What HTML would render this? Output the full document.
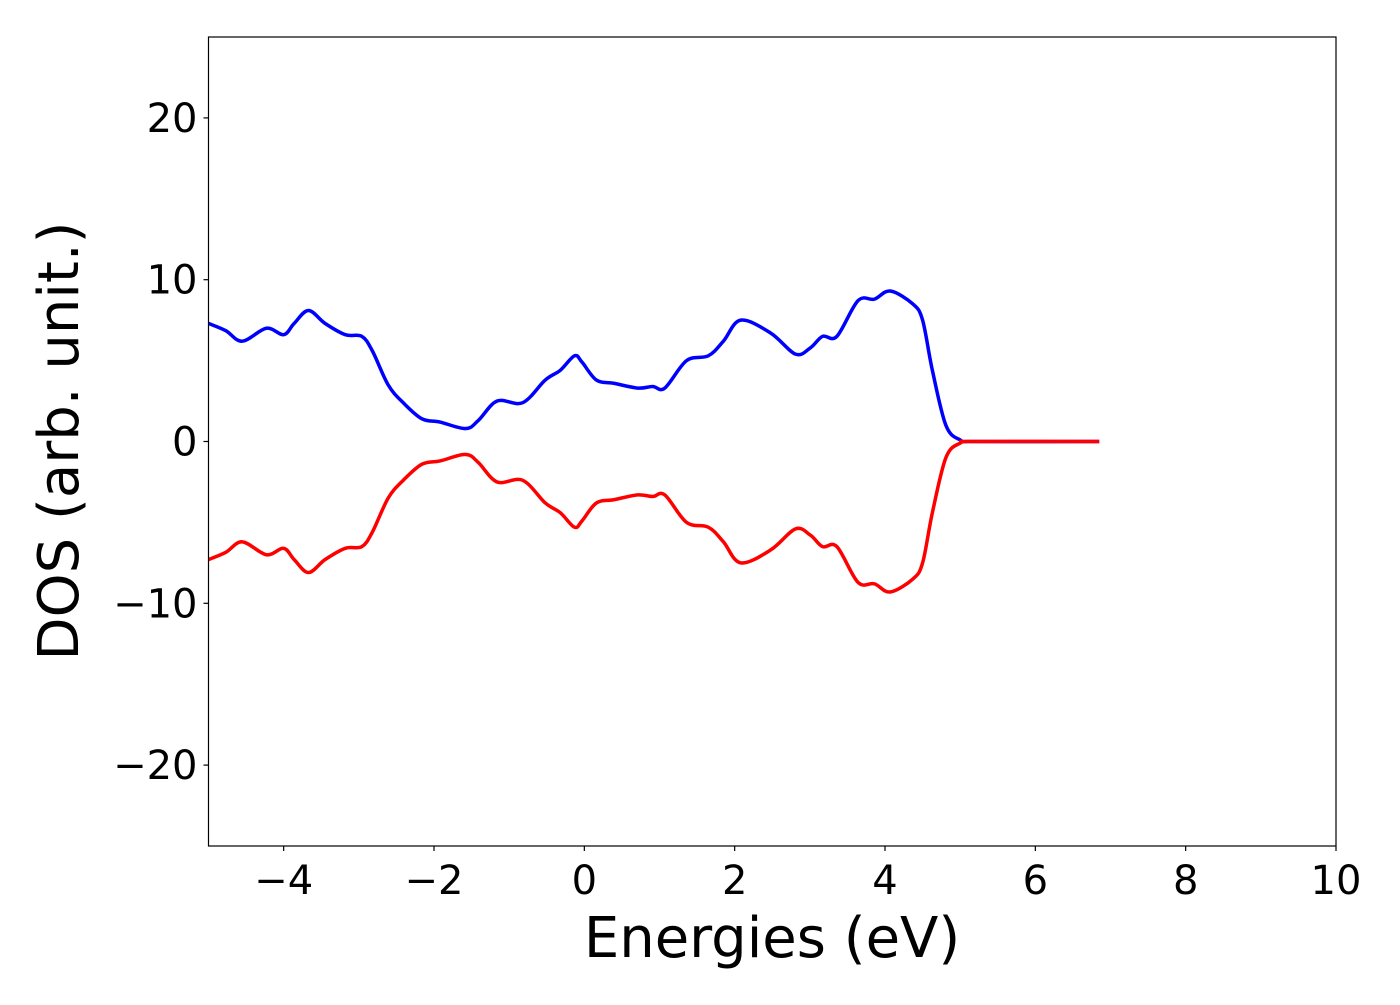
<!DOCTYPE html>
<html><head><meta charset="utf-8"><style>
html,body{margin:0;padding:0;background:#fff;}
svg text{font-family:"DejaVu Sans","Liberation Sans",sans-serif;fill:#000;}
</style></head><body>
<svg id="chart" width="1400" height="1000" viewBox="0 0 1400 1000" xmlns="http://www.w3.org/2000/svg">
<g id="plot"></g>
</svg>
<script>
const energies=[-5,-4.77,-4.55,-4.23,-4.0,-3.86,-3.67,-3.45,-3.18,-2.96,-2.82,-2.61,-2.41,-2.16,-1.92,-1.58,-1.41,-1.16,-0.82,-0.52,-0.32,-0.13,-0.03,0.16,0.39,0.71,0.91,1.07,1.36,1.65,1.85,2.08,2.48,2.81,3.01,3.17,3.36,3.64,3.86,4.07,4.37,4.50,4.63,4.81,5.0,5.2,6.85];
const spinUp=[7.3,6.85,6.2,7.0,6.6,7.3,8.1,7.3,6.6,6.5,5.6,3.5,2.4,1.4,1.2,0.8,1.3,2.5,2.4,3.8,4.4,5.3,4.9,3.8,3.6,3.3,3.4,3.3,5.0,5.3,6.2,7.5,6.7,5.4,5.8,6.5,6.5,8.7,8.8,9.3,8.5,7.5,4.4,1.0,0.1,0,0];
const spinDown=[-7.3,-6.85,-6.2,-7.0,-6.6,-7.3,-8.1,-7.3,-6.6,-6.5,-5.6,-3.5,-2.4,-1.4,-1.2,-0.8,-1.3,-2.5,-2.4,-3.8,-4.4,-5.3,-4.9,-3.8,-3.6,-3.3,-3.4,-3.3,-5.0,-5.3,-6.2,-7.5,-6.7,-5.4,-5.8,-6.5,-6.5,-8.7,-8.8,-9.3,-8.5,-7.5,-4.4,-1.0,-0.1,0,0];
const xTicks=[-4,-2,0,2,4,6,8,10];
const yTicks=[-20,-10,0,10,20];

const L=208.5,R=1336,T=37,B=846;
const xMin=-5,xMax=10,yMin=-25,yMax=25;
const sx=v=>L+(v-xMin)/(xMax-xMin)*(R-L);
const sy=v=>B-(v-yMin)/(yMax-yMin)*(B-T);
const NS="http://www.w3.org/2000/svg";
const g=document.getElementById('plot');
function mk(t,a){const e=document.createElementNS(NS,t);for(const k in a)e.setAttribute(k,a[k]);g.appendChild(e);return e;}
function fmt(v){return v<0?'\u2212'+Math.abs(v):String(v);}

function smooth(xs,ys){
  const p=xs.map((x,i)=>[sx(x),sy(ys[i])]);
  let d='M'+p[0][0]+','+p[0][1];
  for(let i=0;i<p.length-1;i++){
    const p0=p[Math.max(0,i-1)],p1=p[i],p2=p[i+1],p3=p[Math.min(p.length-1,i+2)];
    const c1=[p1[0]+(p2[0]-p0[0])/6,p1[1]+(p2[1]-p0[1])/6];
    const c2=[p2[0]-(p3[0]-p1[0])/6,p2[1]-(p3[1]-p1[1])/6];
    d+=' C'+c1[0]+','+c1[1]+' '+c2[0]+','+c2[1]+' '+p2[0]+','+p2[1];
  }
  return d;
}
let e;
e=mk('path',{d:smooth(energies,spinUp),fill:'none',stroke:'#0000ff','stroke-width':3.5,'stroke-linejoin':'round'});


e=mk('path',{d:smooth(energies,spinDown),fill:'none',stroke:'#ff0000','stroke-width':3.5,'stroke-linejoin':'round'});



e=mk('rect',{x:L,y:T,width:R-L,height:B-T,fill:'none',stroke:'#000','stroke-width':1.2});



xTicks.forEach(v=>{
  const x=sx(v);
  mk('line',{x1:x,x2:x,y1:B,y2:B+5,stroke:'#000','stroke-width':1.2});
  const t=mk('text',{x:x,y:B+48,'text-anchor':'middle','font-size':40});
  t.textContent=fmt(v);
  
  
});
yTicks.forEach(v=>{
  const y=sy(v);
  mk('line',{x1:L-5,x2:L,y1:y,y2:y,stroke:'#000','stroke-width':1.2});
  const t=mk('text',{x:L-11,y:y+14,'text-anchor':'end','font-size':40});
  t.textContent=fmt(v);
  
  
});
e=mk('text',{x:772,y:957,'text-anchor':'middle','font-size':56});
e.textContent='Energies (eV)';


e=mk('text',{x:0,y:0,'text-anchor':'middle','font-size':56,transform:'translate(78,441) rotate(-90)'});
e.textContent='DOS (arb. unit.)';


</script>
</body></html>
